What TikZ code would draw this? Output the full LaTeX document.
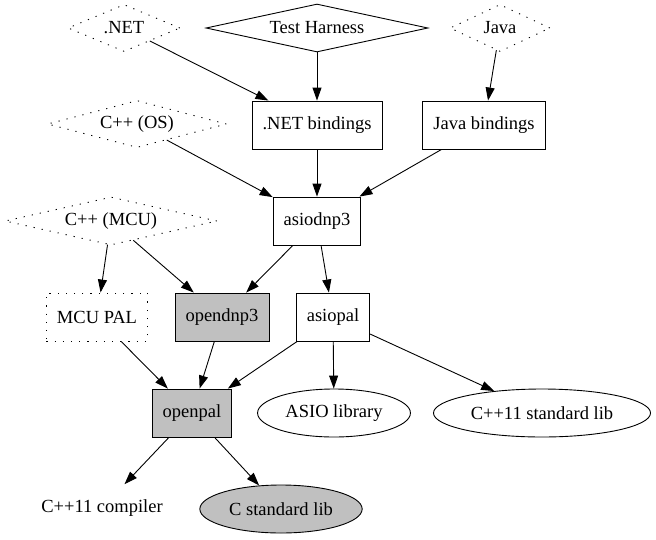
\documentclass[tikz,border=0pt]{standalone}
\usepackage{fontspec}
\setmainfont{Liberation Serif}
\usetikzlibrary{shapes.geometric, arrows.meta}
\definecolor{pkgray}{RGB}{192,192,192}

\begin{document}
\begin{tikzpicture}[x=1pt, y=-1pt, line width=0.9pt,
  font=\rmfamily\fontsize{18.5}{22}\selectfont,
  box/.style={draw, rectangle, minimum width=72pt, minimum height=48pt, inner xsep=10.5pt},
  lib/.style={draw, ellipse, minimum height=48pt, inner xsep=5.5pt},
  plat/.style={draw, diamond, inner sep=0pt, dash pattern=on 1.2pt off 7pt},
  pkg/.style={fill=pkgray},
  dep/.style={-{Triangle[length=13pt, width=9pt]}}]
\useasboundingbox (0,0) rectangle (656,539);
\node[plat, aspect=2.38, minimum width=112pt, minimum height=47pt] (net) at (124,28) {.NET};
\node[draw, diamond, inner sep=0pt, aspect=4.63, minimum width=222pt, minimum height=48pt] (th) at (317,28) {Test Harness};
\node[plat, aspect=2.13, minimum width=100pt, minimum height=47pt] (java) at (500,28) {Java};
\node[plat, aspect=3.8, minimum width=179pt, minimum height=47pt] (cos) at (137,124) {C++ (OS)};
\node[plat, aspect=4.4, minimum width=212pt, minimum height=48pt] (cmcu) at (111,221) {C++ (MCU)};
\node[box] (netb) at (317,125) {.NET bindings};
\node[box] (javab) at (484,125) {Java bindings};
\node[box] (adnp) at (317,221) {asiodnp3};
\node[box, dash pattern=on 1.2pt off 7pt] (mpal) at (97,317) {MCU PAL};
\node[box, pkg] (odnp) at (222,317) {opendnp3};
\node[box] (apal) at (333,317) {asiopal};
\node[box, pkg] (opal) at (192,413) {openpal};
\node[lib] (asio) at (334,413) {ASIO library};
\node[lib] (cstd11) at (542,413) {C++11 standard lib};
\node[lib, draw=none] (comp) at (102,508) {C++11 compiler};
\node[lib, pkg] (cstd) at (281,509) {C standard lib};
\draw[dep] (net)--(netb);
\draw[dep] (th)--(netb);
\draw[dep] (java)--(javab);
\draw[dep] (cos)--(adnp);
\draw[dep] (netb)--(adnp);
\draw[dep] (javab)--(adnp);
\draw[dep] (cmcu)--(mpal);
\draw[dep] (cmcu)--(odnp);
\draw[dep] (adnp)--(odnp);
\draw[dep] (adnp)--(apal);
\draw[dep] (mpal)--(opal);
\draw[dep] (odnp)--(opal);
\draw[dep] (apal)--(opal);
\draw[dep] (apal)--(asio);
\draw[dep] (apal)--(cstd11);
\draw[dep] (opal)--(comp);
\draw[dep] (opal)--(cstd);
\end{tikzpicture}
\end{document}
